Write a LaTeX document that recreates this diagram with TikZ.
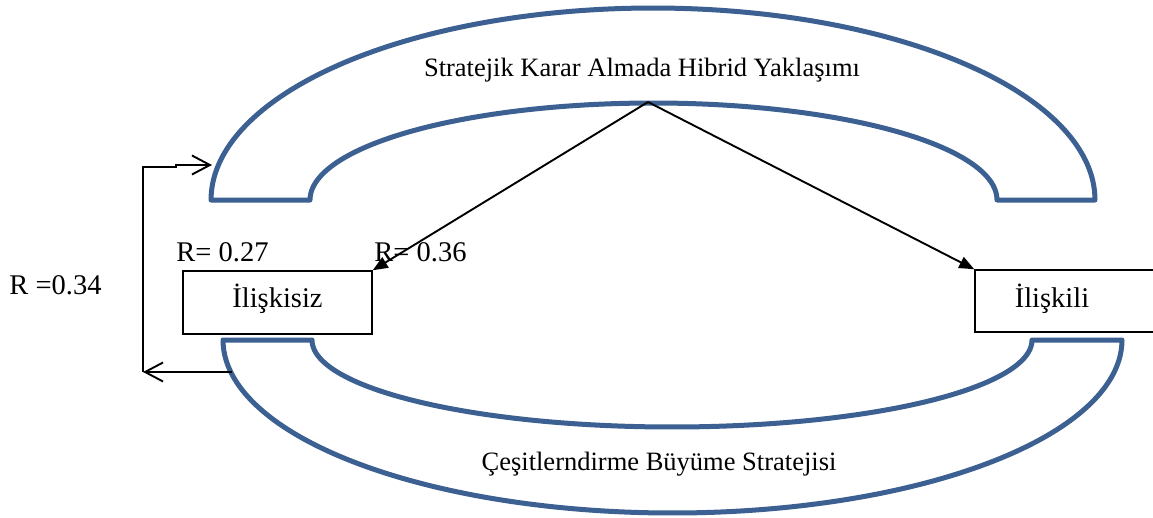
\documentclass[tikz,border=0pt]{standalone}
\usepackage{fontspec}
\setmainfont{Liberation Serif}
\usetikzlibrary{arrows.meta}
\definecolor{archblue}{RGB}{59,96,145}
\begin{document}
\begin{tikzpicture}[x=1pt,y=-1pt,
  arch/.style={draw=archblue, line width=5pt, line join=round},
  conn/.style={draw=black, line width=1.9pt},
  boxnode/.style={draw=black, line width=1.5pt, inner sep=0pt},
  lbl/.style={font=\fontsize{28.5}{30}\selectfont, anchor=base, inner sep=0pt},
  ttl/.style={font=\fontsize{26.5}{28}\selectfont, anchor=base, inner sep=0pt},
  filledtip/.style={-{Triangle[length=15pt,width=12pt]}},
  opentip/.style={-{Straight Barb[length=18pt,width=19pt]}},
]
\useasboundingbox (0,0) rectangle (1153,517);
\clip (0,0) rectangle (1153,517);
% top arch
\path[arch] plot[domain=180:0,samples=150] ({653+442*cos(\x)},{200-192*sin(\x)})
  -- plot[domain=0:180,samples=150] ({653.5+343.5*cos(\x)},{200-97*sin(\x)}) -- cycle;
% bottom arch
\path[arch] plot[domain=180:360,samples=150] ({672.5+449.5*cos(\x)},{340-173*sin(\x)})
  -- plot[domain=360:180,samples=150] ({672+360*cos(\x)},{340-87*sin(\x)}) -- cycle;
% boxes
\node[boxnode, minimum width=189pt, minimum height=63pt] (unrel) at (277.5,302.5) {};
\node[boxnode, minimum width=200pt, minimum height=62pt] (rel) at (1075,301) {};
\node[lbl] (unreltext) at (277.5,307) {İlişkisiz};
\node[lbl] (reltext) at (1052,307) {İlişkili};
% titles
\node[ttl] (title) at (642,76) {Stratejik Karar Almada Hibrid Yaklaşımı};
\node[ttl] (bottomtitle) at (659,470) {Çeşitlerndirme Büyüme Stratejisi};
% R labels
\node[lbl] (r27) at (222.5,261) {R= 0.27};
\node[lbl] (r36) at (420.5,261) {R= 0.36};
\node[lbl] (r34) at (55.5,294) {R =0.34};
% arrows from apex
\coordinate (apex) at (648,102);
\draw[conn, filledtip] (apex) -- (unrel.north east);
\draw[conn, filledtip] (apex) -- (rel.north west);
% feedback
\coordinate (fbstart) at (232,372);
\coordinate (fbcorner) at (143,372);
\coordinate (fbtop) at (143,167);
\coordinate (fbstep) at (176,167);
\coordinate (fbstepup) at (176,165);
\coordinate (fbend) at (212,165);
\draw[conn, opentip] (fbstart) -- (fbcorner);
\draw[conn, opentip] (fbcorner) -- (fbtop) -- (fbstep) -- (fbstepup) -- (fbend);
\end{tikzpicture}
\end{document}
